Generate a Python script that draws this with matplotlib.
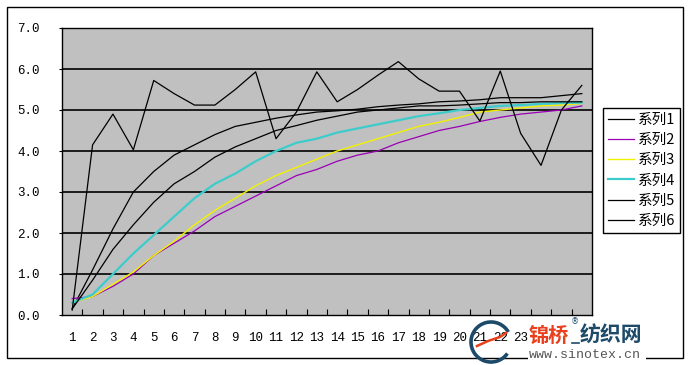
import matplotlib.pyplot as plt
from matplotlib.patches import Rectangle, Arc
import numpy as np

#categories along the x axis
cats = list(range(1, 27))

#series values
s1 = [0.15, 1.1, 2.1, 3.0, 3.5, 3.9, 4.15, 4.4, 4.6, 4.7, 4.8, 4.88, 4.95, 4.98,
      5.02, 5.08, 5.12, 5.15, 5.2, 5.22, 5.25, 5.3, 5.3, 5.3, 5.35, 5.4]
s2 = [0.4, 0.45, 0.7, 1.0, 1.45, 1.75, 2.05, 2.4, 2.65, 2.9, 3.15, 3.4, 3.55, 3.75,
      3.9, 4.0, 4.2, 4.35, 4.5, 4.6, 4.72, 4.82, 4.9, 4.95, 5.0, 5.1]
s3 = [0.3, 0.45, 0.75, 1.05, 1.45, 1.8, 2.2, 2.55, 2.85, 3.15, 3.4, 3.6, 3.8, 4.0,
      4.15, 4.3, 4.45, 4.6, 4.7, 4.82, 4.95, 5.0, 5.05, 5.1, 5.12, 5.16]
s4 = [0.3, 0.5, 1.0, 1.5, 1.95, 2.4, 2.85, 3.2, 3.45, 3.75, 4.0, 4.2, 4.3, 4.45,
      4.55, 4.65, 4.75, 4.85, 4.92, 5.0, 5.05, 5.1, 5.12, 5.15, 5.17, 5.18]
s5 = [0.15, 0.85, 1.6, 2.2, 2.75, 3.2, 3.5, 3.85, 4.1, 4.3, 4.5, 4.62, 4.75, 4.85,
      4.95, 5.0, 5.05, 5.1, 5.1, 5.12, 5.15, 5.18, 5.18, 5.2, 5.2, 5.2]
s6 = [0.12, 4.15, 4.9, 4.03, 5.72, 5.4, 5.12, 5.12, 5.5, 5.93, 4.3, 4.95, 5.93, 5.2,
      5.5, 5.85, 6.18, 5.76, 5.46, 5.46, 4.73, 5.95, 4.43, 3.65, 5.0, 5.6]

names = ['系列1', '系列2', '系列3', '系列4', '系列5', '系列6']
colors = ['#000000', '#9A00B4', '#F2F200', '#3CCCCC', '#000000', '#000000']
widths = [0.9, 0.9, 1.0, 1.6, 0.9, 0.9]

fig = plt.figure(figsize=(6.92, 3.65), dpi=100)
fig.patch.set_facecolor('white')

#outer chart border
fig.patches.append(Rectangle((7/692, 7/365), 676/692, 351/365, transform=fig.transFigure,
                             fill=False, edgecolor='black', linewidth=1.0))

ax = fig.add_axes([62/692, 1 - 315/365, 530/692, 287/365])
ax.set_facecolor('#C0C0C0')

for vals, nm, col, lw in zip([s1, s2, s3, s4, s5, s6], names, colors, widths):
    ax.plot(cats, vals, color=col, linewidth=lw, label=nm)

ax.set_xlim(0.5, 26.5)
ax.set_ylim(0, 7)
ax.set_yticks(np.arange(0, 7.5, 1.0))
ax.set_yticklabels(['%.1f' % v for v in np.arange(0, 7.5, 1.0)])
for y in range(1, 7):
    ax.axhline(y, color='black', linewidth=1.2, zorder=1)

#category labels without marks, boundary ticks inside
ax.set_xticks(cats)
ax.set_xticklabels([str(c) for c in cats])
ax.set_xticks(np.arange(1.5, 26.5, 1.0), minor=True)
ax.tick_params(axis='x', which='major', length=0, pad=12)
ax.tick_params(axis='x', which='minor', direction='in', length=4, width=0.8)
ax.tick_params(axis='y', length=2, pad=14)
for lab in ax.get_xticklabels() + ax.get_yticklabels():
    lab.set_family('Liberation Mono')
    lab.set_fontsize(9)
#the last labels sit under the site logo in the picture
for lab in ax.get_xticklabels()[23:]:
    lab.set_visible(False)
for sp in ax.spines.values():
    sp.set_linewidth(1.0)

leg = fig.legend(loc='upper left', bbox_to_anchor=(603/692, 1 - 108/365),
                 prop={'family': ['Noto Sans CJK SC', 'DejaVu Sans'], 'size': 10.5},
                 frameon=True, fancybox=False, edgecolor='black', framealpha=1,
                 handlelength=1.75, handletextpad=0.3, labelspacing=0.42,
                 borderpad=0.35, borderaxespad=0)
leg.get_frame().set_linewidth(1.0)

#-----site watermark in the lower right corner-----
wm = fig.add_axes([0, 0, 1, 1], zorder=10)
wm.set_xlim(0, 692)
wm.set_ylim(365, 0)
wm.axis('off')
wm.add_patch(Rectangle((528, 318), 118, 44, facecolor='white', edgecolor='none'))
wm.add_patch(Arc((491, 342), 40, 40, theta1=-325, theta2=-30, color='#1E4A6A', linewidth=2.6))
wm.plot([477, 488, 500, 506], [346, 341, 337, 333], color='#E8401C', linewidth=1.8)
cjk = ['Noto Sans CJK SC', 'DejaVu Sans']
wm.text(529, 335, '锦桥', color='#E8401C', fontsize=14.5, fontweight='bold',
        family=cjk, va='center', ha='left')
wm.text(575, 322, '®', color='#1E4A6A', fontsize=6, va='center', ha='center')
wm.text(580, 335, '纺织网', color='#1E4A6A', fontsize=15, fontweight='bold',
        family=cjk, va='center', ha='left')
wm.plot([572, 579], [343, 343], color='#1E4A6A', linewidth=1.2)
wm.text(585, 355, 'www.sinotex.cn', color='#555555', fontsize=9.5,
        family='Liberation Mono', va='center', ha='center')

fig.savefig('out.png', dpi=100)
